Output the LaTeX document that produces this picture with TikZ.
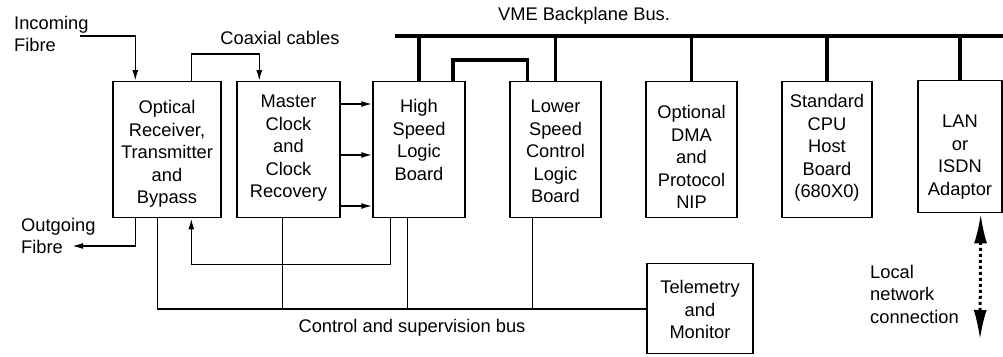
\documentclass[tikz,border=0pt]{standalone}
\usepackage{fontspec}
\setmainfont{Liberation Sans}
\usepackage{tikz}
\usetikzlibrary{arrows.meta, positioning, calc}

\tikzset{
  board/.style={draw, line width=1.4pt, align=center, inner sep=0pt, anchor=north,
    font=\fontsize{18.3}{22.5}\selectfont},
  lbl/.style={inner sep=0pt, font=\fontsize{18.3}{22.5}\selectfont},
  sig/.style={line width=1.6pt},
  sigarrow/.style={sig, -{Latex[length=11pt,width=6pt]}},
  vmebus/.style={line width=3.8pt},
}

\begin{document}
\begin{tikzpicture}[x=1pt, y=-1pt]
\useasboundingbox (0,0) rectangle (1003,356);

% boards (placed by their top edge)
\node[board, minimum width=108pt, text height=122pt, text depth=14pt] (opt) at (167,81)
  {Optical\\Receiver,\\Transmitter\\and\\Bypass};
\node[board, minimum width=103pt, text height=116pt, text depth=20pt] (mclk) at (288.5,81)
  {Master\\Clock\\and\\Clock\\Recovery};
\node[board, minimum width=92pt, text height=98.5pt, text depth=37.5pt] (hsl) at (419,81)
  {High\\Speed\\Logic\\Board};
\node[board, minimum width=91pt, text height=121pt, text depth=15pt] (lsc) at (555.5,81)
  {Lower\\Speed\\Control\\Logic\\Board};
\node[board, minimum width=91pt, text height=127pt, text depth=9pt] (dma) at (691.5,81)
  {Optional\\DMA\\and\\Protocol\\NIP};
\node[board, minimum width=90pt, text height=116pt, text depth=20pt] (cpu) at (827,81)
  {Standard\\CPU\\Host\\Board\\(680X0)};
\node[board, minimum width=84pt, text height=114.5pt, text depth=17.5pt] (lan) at (960,80)
  {LAN\\or\\ISDN\\Adaptor};
\node[board, minimum width=106pt, text height=75pt, text depth=15pt] (tel) at (700,263)
  {Telemetry\\and\\Monitor};

% VME backplane bus
\coordinate (vmeL) at (395,36);
\coordinate (vmeR) at (1003,36);
\draw[vmebus] (vmeL) -- (vmeR);
\node[lbl] (vmelbl) at (584,16) {VME Backplane Bus.};
\foreach \b in {hsl,lsc,dma,cpu,lan}
  \draw[vmebus] (\b.north) -- (\b.north |- vmeL);
\draw[vmebus] ($(hsl.north)+(34,0)$) -- ++(0,-21) -| ($(lsc.north)+(-28,0)$);

% fibres
\node[lbl, align=left, anchor=north west] (inlbl) at (14,16) {Incoming\\Fibre};
\coordinate (inF) at (80,36);
\draw[sigarrow] (inF) -| ($(opt.north west)+(23,0)$);
\node[lbl, align=left, anchor=north west] (outlbl) at (21,218) {Outgoing\\Fibre};
\coordinate (outF) at (72,246);
\draw[sigarrow] ($(opt.south west)+(23,0)$) |- (outF);

% coaxial cables and clocks
\node[lbl] (coaxlbl) at (280,38) {Coaxial cables};
\draw[sigarrow] ($(opt.north west)+(79,0)$) -- ++(0,-27) -| ($(mclk.north west)+(23,0)$);
\foreach \dy in {23,74,125}
  \draw[sigarrow] ($(mclk.north east)+(0,\dy)$) -- ($(hsl.north west)+(0,\dy)$);
\draw[sigarrow] ($(hsl.south west)+(18,0)$) -- ++(0,46) -| ($(opt.south west)+(79,0)$);

% control and supervision bus
\draw[sig] ($(opt.south west)+(45,0)$) |- (tel.west);
\foreach \b/\dx in {mclk/46,hsl/35,lsc/23}
  \draw[sig] ($(\b.south west)+(\dx,0)$) -- ++(0,91);
\node[lbl] (cbuslbl) at (412,328) {Control and supervision bus};

% local network
\coordinate (lnE) at (980,340);
\draw[line width=3pt, dash pattern=on 3pt off 3pt,
  {Latex[length=30pt,width=13pt]}-{Latex[length=30pt,width=13pt]}]
  ($(lan.south east)+(-22,0)$) -- (lnE);
\node[lbl, align=left, anchor=west] (netlbl) at (870,294) {Local\\network\\connection};
\end{tikzpicture}
\end{document}
